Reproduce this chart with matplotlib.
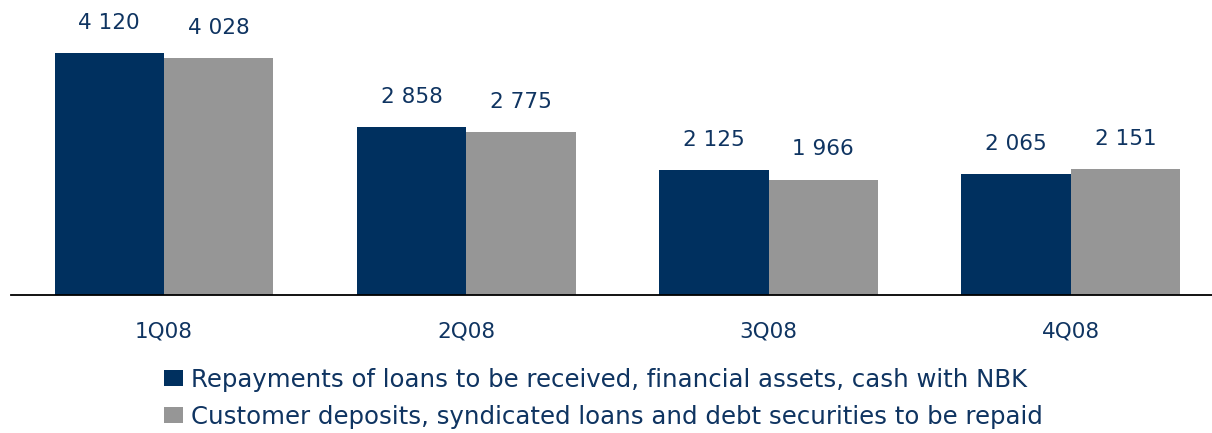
import matplotlib
matplotlib.use("Agg")
import matplotlib.pyplot as plt
import numpy as np

plt.rcParams['font.family'] = ['DejaVu Sans']

quarters = ["1Q08", "2Q08", "3Q08", "4Q08"]
repayments = [4120, 2858, 2125, 2065]
deposits = [4028, 2775, 1966, 2151]
series_names = [
    "Repayments of loans to be received, financial assets, cash with NBK",
    "Customer deposits, syndicated loans and debt securities to be repaid",
]
navy = "#00305F"
grey = "#969696"
text_col = "#0F3461"

W, H = 1212, 433
fig = plt.figure(figsize=(W / 100, H / 100), dpi=100)
ax = fig.add_axes([11 / W, 1 - 295 / H, 1 - 11 / W, 295 / H])

x = np.arange(len(quarters))
w = 0.362
b1 = ax.bar(x - w / 2, repayments, w, color=navy, label=series_names[0])
b2 = ax.bar(x + w / 2, deposits, w, color=grey, label=series_names[1])


def fmt(v):
    return f"{v:,}".replace(",", " ")


for bars, vals in ((b1, repayments), (b2, deposits)):
    for rect, v in zip(bars, vals):
        ax.annotate(fmt(v), (rect.get_x() + rect.get_width() / 2, v),
                    xytext=(0, 14.5), textcoords="offset points",
                    ha="center", va="bottom", fontsize=15.5, color=text_col)

ax.set_xlim(-0.506, 3.467)
ax.set_ylim(0, 5022)
for s in ("top", "right", "left"):
    ax.spines[s].set_visible(False)
ax.spines["bottom"].set_color("#000000")
ax.spines["bottom"].set_linewidth(1.3)
ax.set_yticks([])
ax.set_xticks(x)
ax.set_xticklabels(quarters, fontsize=15.5, color=text_col)
ax.tick_params(axis="x", length=0, pad=19)
ax.patch.set_alpha(0)

leg = fig.legend(handles=[b1, b2], loc="upper left",
                 bbox_to_anchor=(164 / W, 1 - 368 / H),
                 frameon=False, fontsize=17.6, handlelength=0.76, handleheight=0.62,
                 handletextpad=0.33, labelspacing=0.52, borderpad=0, borderaxespad=0)
for t in leg.get_texts():
    t.set_color(text_col)

fig.savefig("out.png", dpi=100)
